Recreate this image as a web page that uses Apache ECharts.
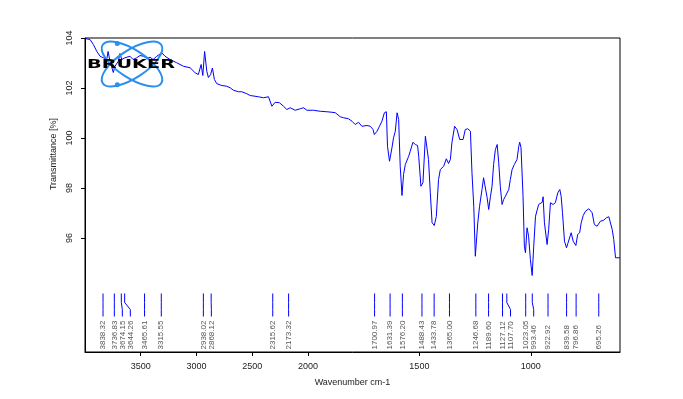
<!DOCTYPE html>
<html>
<head>
<meta charset="UTF-8">
<title>IR spectrum</title>
<style>html,body{margin:0;padding:0;background:#fff;}</style>
</head>
<body>
<div id="main" style="width:683px;height:399px;"></div>
<script src="https://cdn.jsdelivr.net/npm/echarts@6/dist/echarts.min.js"></script>
<script>
// spectrum
var wavenumber = [4000, 3955, 3925, 3895, 3865, 3836, 3805, 3793, 3775, 3760,
  3746, 3731, 3701, 3686, 3670, 3641, 3596, 3569, 3536, 3506,
  3476, 3443, 3416, 3389, 3356, 3311, 3282, 3237, 3177, 3117,
  3057, 3012, 2983, 2958, 2943, 2927, 2907, 2893, 2873, 2857,
  2839, 2817, 2772, 2728, 2698, 2668, 2623, 2593, 2548, 2518,
  2444, 2399, 2354, 2339, 2323, 2309, 2294, 2255, 2219, 2189,
  2159, 2114, 2069, 2040, 2009, 1975, 1945, 1915, 1892, 1877,
  1855, 1840, 1818, 1802, 1788, 1773, 1758, 1735, 1720, 1708,
  1702, 1690, 1679, 1668, 1657, 1648, 1643, 1634, 1623, 1616,
  1608, 1600, 1593, 1586, 1578, 1571, 1563, 1548, 1541, 1529,
  1518, 1508, 1503, 1493, 1488, 1484, 1473, 1466, 1459, 1451,
  1443, 1433, 1424, 1414, 1406, 1391, 1379, 1369, 1361, 1354,
  1342, 1331, 1319, 1304, 1294, 1283, 1271, 1264, 1256, 1249,
  1244, 1238, 1230, 1219, 1212, 1204, 1196, 1189, 1181, 1174,
  1167, 1159, 1151, 1144, 1137, 1129, 1122, 1114, 1107, 1099,
  1092, 1084, 1074, 1062, 1054, 1050, 1044, 1035, 1029, 1024,
  1017, 1010, 1002, 994, 987, 979, 965, 949, 945, 939,
  927, 920, 912, 900, 890, 879, 870, 864, 858, 849,
  840, 834, 827, 819, 810, 798, 790, 781, 774, 765,
  755, 740, 733, 725, 715, 703, 695, 688, 673, 661,
  650, 643, 635, 628, 620, 600];
var transmittance = [103.98, 103.94, 103.74, 103.47, 103.27, 103.21, 103.14, 103.46, 103.06, 103.07,
  102.62, 102.87, 103.07, 103.38, 103.14, 103.21, 103.27, 103.14, 103.21, 103.30,
  103.27, 103.18, 103.23, 103.14, 103.27, 103.41, 103.27, 103.14, 103.01, 102.87,
  102.81, 102.61, 102.54, 102.94, 102.50, 103.46, 102.67, 102.42, 102.54, 102.80,
  102.34, 102.17, 102.10, 102.07, 102.01, 101.91, 101.85, 101.85, 101.77, 101.70,
  101.65, 101.61, 101.65, 101.65, 101.27, 101.34, 101.43, 101.41, 101.27, 101.14,
  101.21, 101.11, 101.17, 101.21, 101.11, 101.11, 101.07, 101.05, 101.03, 101.01,
  100.85, 100.81, 100.77, 100.67, 100.54, 100.63, 100.47, 100.50, 100.47, 100.34,
  100.14, 100.27, 100.47, 100.67, 101.01, 101.05, 99.67, 99.07, 99.61, 100.01,
  100.27, 101.01, 100.74, 98.87, 97.70, 98.54, 98.94, 99.27, 99.47, 99.83,
  99.74, 99.70, 99.27, 98.07, 98.02, 98.21, 100.07, 100.07, 99.14, 97.81,
  96.61, 96.50, 96.87, 98.34, 98.74, 98.87, 99.17, 98.98, 99.14, 99.81,
  100.47, 100.34, 99.94, 99.94, 100.34, 100.37, 100.27, 98.61, 97.27, 95.27,
  95.21, 96.61, 97.27, 97.94, 98.41, 98.34, 97.61, 97.14, 97.67, 98.07,
  98.94, 99.54, 99.74, 99.01, 98.07, 97.34, 97.54, 97.67, 97.61, 97.94,
  98.34, 98.74, 98.94, 99.14, 99.67, 99.83, 99.61, 97.67, 95.67, 95.41,
  96.41, 96.07, 95.14, 94.50, 95.67, 96.87, 97.34, 97.43, 97.65, 96.61,
  95.74, 96.34, 97.41, 97.34, 97.41, 97.81, 97.94, 97.67, 97.01, 95.87,
  95.61, 95.78, 95.83, 96.21, 95.87, 95.70, 96.14, 96.21, 96.61, 96.90,
  97.07, 97.17, 97.21, 97.01, 96.54, 96.47, 96.54, 96.67, 96.71, 96.81,
  96.85, 96.81, 96.34, 95.94, 95.21, 95.21];

// picked peaks (cm-1)
var peaks = [3838.32, 3736.83, 3674.15, 3644.26, 3465.61, 3315.55, 2938.02, 2868.12,
  2315.62, 2173.32, 1700.97, 1631.39, 1576.20, 1488.43, 1433.78, 1365.00,
  1246.68, 1189.60, 1127.12, 1107.70, 1023.05, 993.46, 922.92, 839.58, 796.86, 695.26];

var xTicks = [3500, 3000, 2500, 2000, 1500, 1000];
var yTicks = [96, 98, 100, 102, 104];
var yMin = 91.44, yMax = 104;

// OPUS style axis: above 2000 cm-1 the scale is squeezed by 2
function toAxis(w) { return w > 2000 ? 2000 + (w - 2000) / 2 : w; }
function fromAxis(t) { return t > 2000 ? 2000 + (t - 2000) * 2 : t; }

var lineData = wavenumber.map(function (w, i) { return [toAxis(w), transmittance[i]]; });
var peakData = peaks.map(function (p) { return [toAxis(p), yMin]; });

var font = 'Liberation Sans';
var myChart = echarts.init(document.getElementById('main'));

myChart.setOption({
  animation: false,
  grid: { left: 85, right: 63, top: 38, bottom: 47, show: true, borderColor: '#000', borderWidth: 1 },
  xAxis: {
    type: 'value', inverse: true, min: toAxis(600), max: toAxis(4000),
    name: 'Wavenumber cm-1', nameLocation: 'middle', nameGap: 26,
    nameTextStyle: { color: '#222', fontSize: 9, fontFamily: font },
    axisLine: { show: true, onZero: false, lineStyle: { color: '#000', width: 1 } },
    axisTick: { show: true, customValues: xTicks.map(toAxis), length: 4, lineStyle: { color: '#000' } },
    axisLabel: {
      customValues: xTicks.map(toAxis), margin: 10, color: '#222', fontSize: 9, fontFamily: font,
      formatter: function (v) { return String(Math.round(fromAxis(v))); }
    },
    splitLine: { show: false }
  },
  yAxis: {
    type: 'value', min: yMin, max: yMax,
    axisLine: { show: true, onZero: false, lineStyle: { color: '#000', width: 1 } },
    axisTick: { show: true, customValues: yTicks, length: 4, lineStyle: { color: '#000' } },
    axisLabel: { customValues: yTicks, rotate: 90, margin: 11, color: '#222', fontSize: 9, fontFamily: font },
    splitLine: { show: false }
  },
  graphic: [
    { type: 'text', x: 54, y: 154, rotation: Math.PI / 2, z: 10,
      style: { text: 'Transmittance [%]', fill: '#222', font: '9px "Liberation Sans"', align: 'center', verticalAlign: 'middle' } },
    // Bruker logo
    { type: 'ellipse', x: 132, y: 64, rotation: 0.58, z: 20,
      shape: { cx: 0, cy: 0, rx: 35, ry: 14 }, style: { fill: null, stroke: '#2a8fef', lineWidth: 2 } },
    { type: 'ellipse', x: 132, y: 64, rotation: -0.58, z: 20,
      shape: { cx: 0, cy: 0, rx: 35, ry: 14 }, style: { fill: null, stroke: '#2a8fef', lineWidth: 2 } },
    { type: 'circle', z: 21, shape: { cx: 117.3, cy: 43.5, r: 2.5 }, style: { fill: '#2a8fef' } },
    { type: 'circle', z: 21, shape: { cx: 117.3, cy: 84.7, r: 2.5 }, style: { fill: '#2a8fef' } },
    { type: 'text', x: 87, y: 65, scaleX: 1.48, z: 22,
      style: { text: 'BRUKER', fill: '#000', font: 'bold 13px "DejaVu Sans"', align: 'left', verticalAlign: 'middle' } }
  ],
  series: [
    {
      type: 'line', data: lineData, showSymbol: false, symbol: 'none',
      lineStyle: { color: '#0000ff', width: 1 }, itemStyle: { color: '#0000ff' }, z: 3
    },
    {
      type: 'custom', data: peakData, z: 4,
      renderItem: function (params, api) {
        var i = params.dataIndex;
        var bottom = api.coord([api.value(0), yMin])[1];
        // push labels apart from left to right
        var lx = -Infinity, px = 0;
        for (var j = 0; j <= i; j++) {
          px = api.coord([toAxis(peaks[j]), yMin])[0];
          lx = Math.max(px, lx + 8);
        }
        var pts = [[px, bottom - 58.5], [px, bottom - 49.5], [lx, bottom - 42.5], [lx, bottom - 35.5]];
        return {
          type: 'group',
          children: [
            { type: 'polyline', shape: { points: pts }, style: { stroke: '#0000ff', lineWidth: 1, fill: null } },
            { type: 'text', x: lx, y: bottom - 2.5, rotation: Math.PI / 2,
              style: { text: peaks[i].toFixed(2), fill: '#555', font: '8px "Liberation Sans"', align: 'left', verticalAlign: 'middle' } }
          ]
        };
      }
    }
  ]
});
</script>
</body>
</html>
